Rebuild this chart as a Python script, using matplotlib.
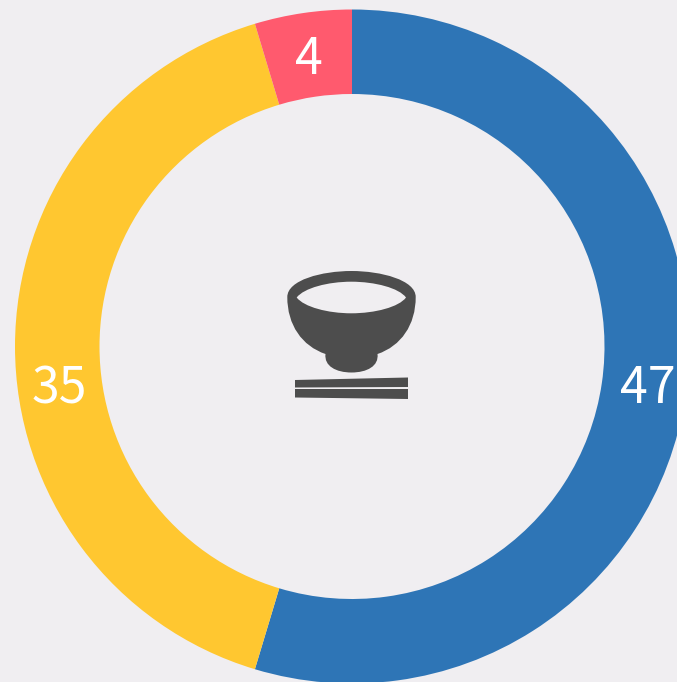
import matplotlib
matplotlib.use("Agg")
import matplotlib.pyplot as plt
from matplotlib.path import Path
from matplotlib.patches import PathPatch, Polygon

values = [47, 35, 4]
labels = ["47", "35", "4"]
colors = ["#2e75b6", "#ffc730", "#ff5a6e"]
label_pos = [(648, 403), (59, 403), (309, 74)]
BG = "#f0eef1"
ICON = "#4d4d4d"

W, H = 677, 682
fig = plt.figure(figsize=(W / 100, H / 100), dpi=100, facecolor=BG)
ax = fig.add_axes([0, 0, 1, 1], facecolor=BG)

CX, CY, R_OUT, R_IN = 352, 346.5, 337, 252.5
ax.pie(values, colors=colors, startangle=90, counterclock=False,
       center=(CX, -CY), radius=R_OUT, frame=True,
       wedgeprops=dict(width=R_OUT - R_IN, linewidth=0))
ax.set_xlim(0, W)
ax.set_ylim(-H, 0)
ax.set_aspect("equal")
ax.axis("off")

for lab, (x, y) in zip(labels, label_pos):
    ax.text(x, -y, lab, color="white", fontsize=36, family="Noto Sans CJK SC",
            ha="center", va="baseline")

# bowl icon, in pixels of the picture
def P(x, y):
    return (x, -y)

M, C = Path.MOVETO, Path.CURVE4
bowl = [
    (M, P(287.3, 297)),
    (C, P(287.3, 280)), (C, P(322, 271)), (C, P(351.5, 271)),
    (C, P(381, 271)), (C, P(415.7, 280)), (C, P(415.7, 297)),
    (C, P(415.7, 325)), (C, P(401, 346)), (C, P(377.5, 354)),
    (C, P(379, 366)), (C, P(367, 372.5)), (C, P(351.5, 372.5)),
    (C, P(336, 372.5)), (C, P(324, 366)), (C, P(325.5, 354)),
    (C, P(302, 346)), (C, P(287.3, 325)), (C, P(287.3, 297)),
]
codes, verts = zip(*bowl)
ax.add_patch(PathPatch(Path(verts, codes), facecolor=ICON, edgecolor="none", zorder=3))
lens = [
    (M, P(296.7, 297.5)),
    (C, P(304, 288)), (C, P(328, 281.7)), (C, P(351.3, 281.7)),
    (C, P(375, 281.7)), (C, P(399, 288)), (C, P(406, 297.5)),
    (C, P(399, 307)), (C, P(375, 313.3)), (C, P(351.3, 313.3)),
    (C, P(328, 313.3)), (C, P(304, 307)), (C, P(296.7, 297.5)),
]
codes, verts = zip(*lens)
ax.add_patch(PathPatch(Path(verts, codes), facecolor=BG, edgecolor="none", zorder=4))
ax.add_patch(Polygon([P(295, 380), P(408, 377.5), P(408, 387), P(295, 387.5)],
                     facecolor=ICON, edgecolor="none", zorder=3))
ax.add_patch(Polygon([P(295, 389), P(408, 389), P(408, 399), P(295, 397.5)],
                     facecolor=ICON, edgecolor="none", zorder=3))

fig.savefig("out.png", dpi=100, facecolor=BG)
